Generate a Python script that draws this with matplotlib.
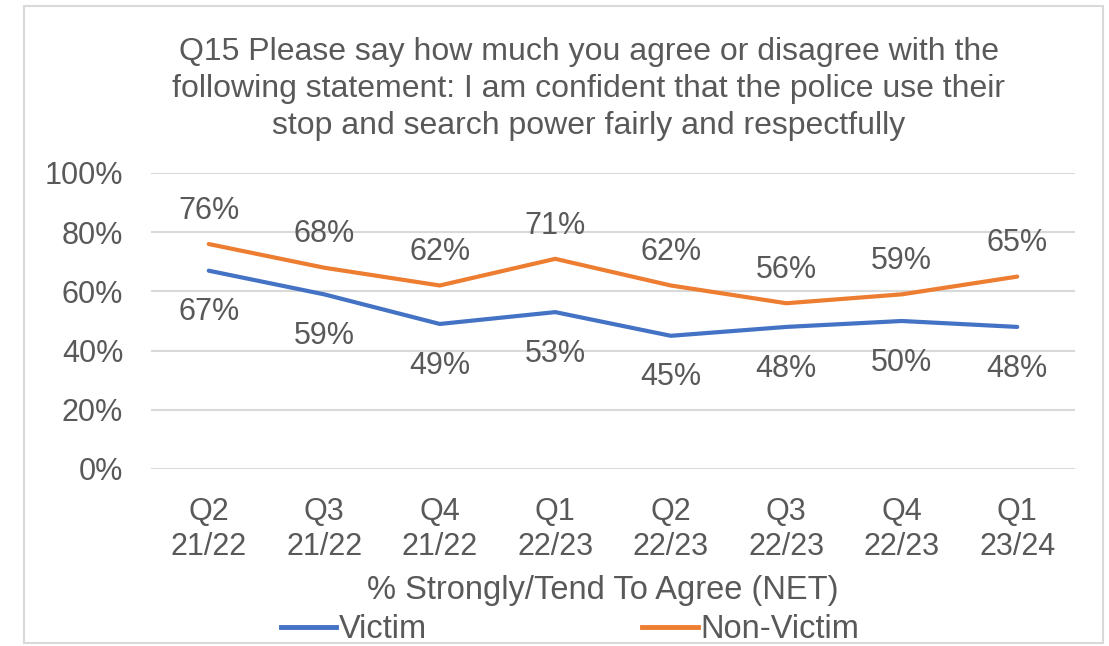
import matplotlib
matplotlib.use("Agg")
import matplotlib.pyplot as plt
from matplotlib.patches import Rectangle
from matplotlib.lines import Line2D

plt.rcParams['font.family'] = ['Liberation Sans', 'DejaVu Sans']

quarters = ["Q2\n21/22", "Q3\n21/22", "Q4\n21/22", "Q1\n22/23",
            "Q2\n22/23", "Q3\n22/23", "Q4\n22/23", "Q1\n23/24"]
victim = [67, 59, 49, 53, 45, 48, 50, 48]
non_victim = [76, 68, 62, 71, 62, 56, 59, 65]

TEXT = "#595959"
GRID = "#d9d9d9"
BLUE = "#4472C4"
ORANGE = "#ED7D31"
FS = 22

W, H = 1109, 646
fig = plt.figure(figsize=(W / 100, H / 100), dpi=100)

# chart frame
fig.patches.append(Rectangle((24 / W, 3 / H), 1079 / W, 637 / H,
                             transform=fig.transFigure, fill=False,
                             edgecolor=GRID, linewidth=1.5))

ax = fig.add_axes([151 / W, 177 / H, 924 / W, 296 / H])
x = list(range(len(quarters)))
ax.plot(x, victim, color=BLUE, linewidth=3, solid_capstyle='round', zorder=3)
ax.plot(x, non_victim, color=ORANGE, linewidth=3, solid_capstyle='round', zorder=3)

# victim labels sit below the line, non-victim labels above
for xi, v in zip(x, victim):
    ax.annotate(f"{v}%", (xi, v), xytext=(0, -30), textcoords='offset points',
                ha='center', va='center', fontsize=FS, color=TEXT)
for xi, v in zip(x, non_victim):
    ax.annotate(f"{v}%", (xi, v), xytext=(0, 24), textcoords='offset points',
                ha='center', va='center', fontsize=FS, color=TEXT)

ax.set_xlim(-0.5, len(quarters) - 0.5)
ax.set_ylim(0, 100)
ax.set_yticks(range(0, 101, 20))
ax.set_yticklabels([f"{t}%" for t in range(0, 101, 20)])
ax.set_xticks(x)
ax.set_xticklabels(quarters, linespacing=1.22)
ax.tick_params(length=0, labelsize=FS, colors=TEXT)
ax.tick_params(axis='x', pad=20)
ax.tick_params(axis='y', pad=20)
ax.grid(axis='y', color=GRID, linewidth=1.5)
ax.set_axisbelow(True)
for s in ax.spines.values():
    s.set_visible(False)

fig.text(589 / W, 1 - 89 / H,
         "Q15 Please say how much you agree or disagree with the\n"
         "following statement: I am confident that the police use their\n"
         "stop and search power fairly and respectfully",
         ha='center', va='center', fontsize=23, color=TEXT, linespacing=1.31)

fig.text(603 / W, 1 - 590 / H, "% Strongly/Tend To Agree (NET)",
         ha='center', va='center', fontsize=23.5, color=TEXT)

handles = [Line2D([], [], color=BLUE, linewidth=3.5),
           Line2D([], [], color=ORANGE, linewidth=3.5)]
fig.legend(handles, ["Victim", "Non-Victim"], loc='center',
           bbox_to_anchor=(570 / W, 1 - 630 / H), ncol=2, frameon=False,
           fontsize=23.5, labelcolor=TEXT, handlelength=1.7, handletextpad=0.08,
           columnspacing=6.6)

fig.savefig("out.png", dpi=100)
